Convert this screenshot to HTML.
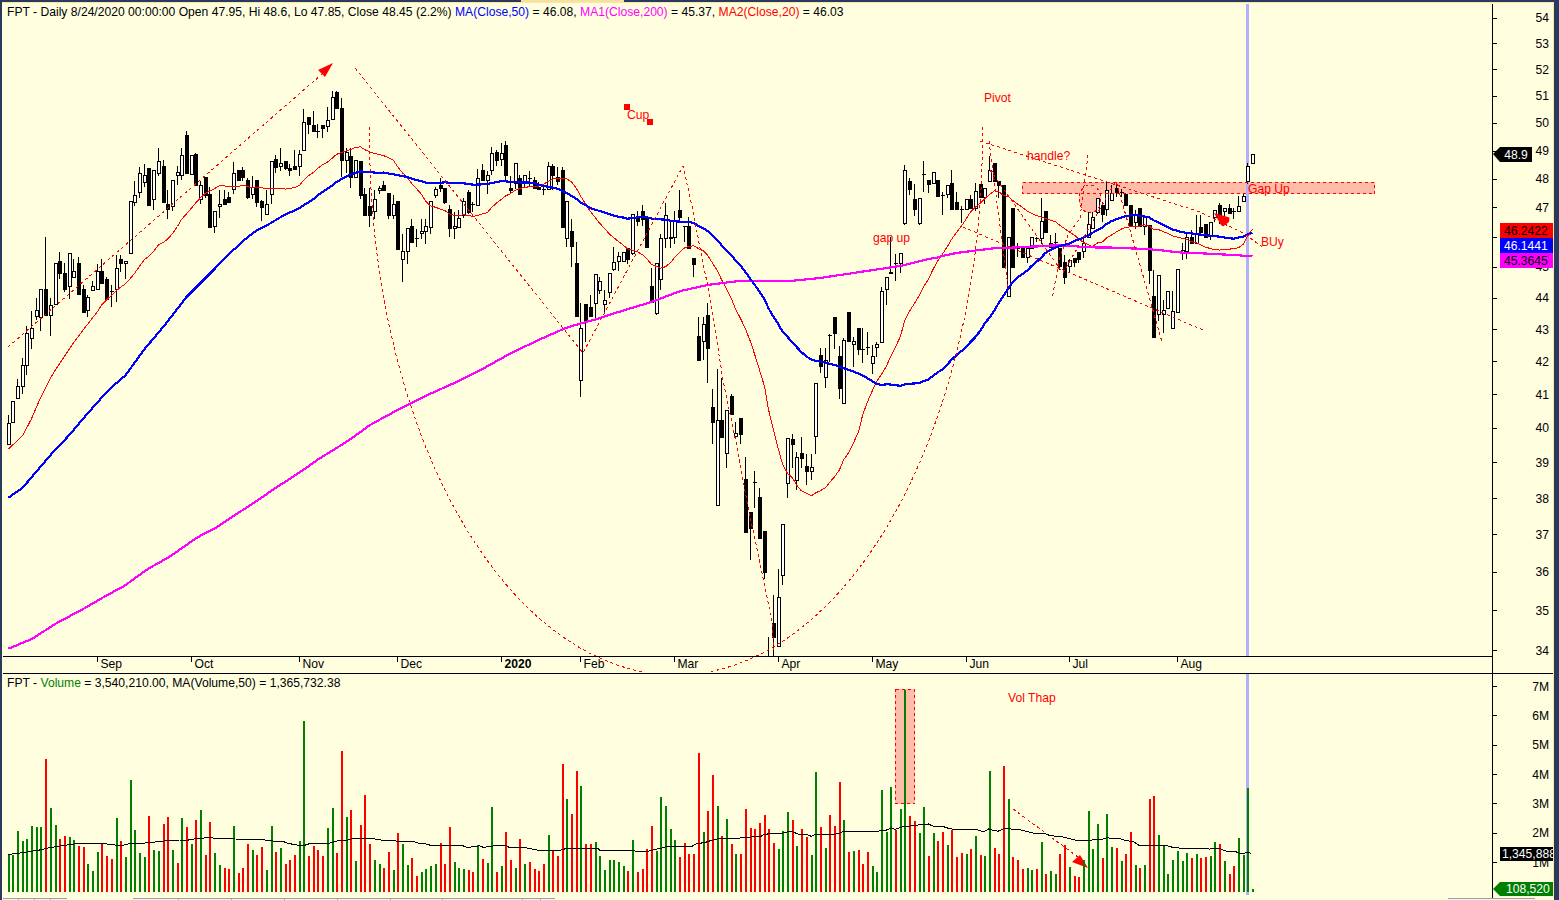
<!DOCTYPE html><html><head><meta charset="utf-8"><style>html,body{margin:0;padding:0;background:#FFFFE0;overflow:hidden}body{width:1559px;height:900px}</style></head><body><svg width="1559" height="900" viewBox="0 0 1559 900" style="display:block">
<rect x="0" y="0" width="1559" height="900" fill="#FFFFE0"/>
<rect x="1022" y="182" width="353" height="12" fill="#FFBCA8"/>
<ellipse cx="1090" cy="199" rx="11" ry="14" fill="#FFBCA8"/>
<rect x="895" y="689" width="20" height="115" fill="#FFBCA8"/>
<rect x="1246" y="4" width="3" height="652" fill="#B0B0FF"/>
<rect x="1246" y="674" width="3" height="221" fill="#B0B0FF"/>
<g shape-rendering="crispEdges"><rect x="8" y="415" width="1" height="30" fill="#000"/><rect x="7" y="423" width="4" height="22" fill="#000"/><rect x="8" y="424" width="2" height="20" fill="#FFF"/><rect x="12" y="401" width="1" height="22" fill="#000"/><rect x="11" y="401" width="4" height="22" fill="#000"/><rect x="12" y="402" width="2" height="20" fill="#FFF"/><rect x="17" y="379" width="1" height="20" fill="#000"/><rect x="16" y="386" width="4" height="13" fill="#000"/><rect x="17" y="387" width="2" height="11" fill="#FFF"/><rect x="22" y="358" width="1" height="36" fill="#000"/><rect x="21" y="365" width="4" height="22" fill="#000"/><rect x="22" y="366" width="2" height="20" fill="#FFF"/><rect x="26" y="326" width="1" height="49" fill="#000"/><rect x="25" y="333" width="4" height="33" fill="#000"/><rect x="26" y="334" width="2" height="31" fill="#FFF"/><rect x="31" y="311" width="1" height="38" fill="#000"/><rect x="30" y="328" width="4" height="11" fill="#000"/><rect x="31" y="329" width="2" height="9" fill="#FFF"/><rect x="36" y="298" width="1" height="22" fill="#000"/><rect x="35" y="310" width="4" height="7" fill="#000"/><rect x="36" y="311" width="2" height="5" fill="#FFF"/><rect x="40" y="289" width="1" height="42" fill="#000"/><rect x="39" y="289" width="4" height="29" fill="#000"/><rect x="40" y="290" width="2" height="27" fill="#FFF"/><rect x="45" y="237" width="1" height="79" fill="#000"/><rect x="44" y="289" width="4" height="27" fill="#000"/><rect x="50" y="298" width="1" height="38" fill="#000"/><rect x="49" y="305" width="4" height="11" fill="#000"/><rect x="50" y="306" width="2" height="9" fill="#FFF"/><rect x="55" y="263" width="1" height="42" fill="#000"/><rect x="54" y="263" width="4" height="42" fill="#000"/><rect x="55" y="264" width="2" height="40" fill="#FFF"/><rect x="59" y="252" width="1" height="27" fill="#000"/><rect x="58" y="261" width="4" height="13" fill="#000"/><rect x="64" y="263" width="1" height="29" fill="#000"/><rect x="63" y="273" width="4" height="17" fill="#000"/><rect x="69" y="253" width="1" height="46" fill="#000"/><rect x="68" y="253" width="4" height="34" fill="#000"/><rect x="69" y="254" width="2" height="32" fill="#FFF"/><rect x="73" y="259" width="1" height="19" fill="#000"/><rect x="72" y="271" width="4" height="7" fill="#000"/><rect x="73" y="272" width="2" height="5" fill="#FFF"/><rect x="78" y="257" width="1" height="38" fill="#000"/><rect x="77" y="263" width="4" height="32" fill="#000"/><rect x="83" y="285" width="1" height="28" fill="#000"/><rect x="82" y="289" width="4" height="24" fill="#000"/><rect x="87" y="295" width="1" height="22" fill="#000"/><rect x="86" y="297" width="4" height="14" fill="#000"/><rect x="87" y="298" width="2" height="12" fill="#FFF"/><rect x="92" y="281" width="1" height="10" fill="#000"/><rect x="91" y="286" width="4" height="5" fill="#000"/><rect x="92" y="287" width="2" height="3" fill="#FFF"/><rect x="97" y="264" width="1" height="26" fill="#000"/><rect x="96" y="271" width="4" height="19" fill="#000"/><rect x="97" y="272" width="2" height="17" fill="#FFF"/><rect x="101" y="259" width="1" height="25" fill="#000"/><rect x="100" y="271" width="4" height="13" fill="#000"/><rect x="106" y="277" width="1" height="23" fill="#000"/><rect x="105" y="279" width="4" height="21" fill="#000"/><rect x="111" y="285" width="1" height="22" fill="#000"/><rect x="110" y="291" width="4" height="1" fill="#000"/><rect x="116" y="255" width="1" height="47" fill="#000"/><rect x="115" y="268" width="4" height="22" fill="#000"/><rect x="116" y="269" width="2" height="20" fill="#FFF"/><rect x="120" y="255" width="1" height="17" fill="#000"/><rect x="119" y="259" width="4" height="5" fill="#000"/><rect x="125" y="261" width="1" height="18" fill="#000"/><rect x="124" y="261" width="4" height="3" fill="#000"/><rect x="125" y="262" width="2" height="1" fill="#FFF"/><rect x="130" y="201" width="1" height="53" fill="#000"/><rect x="129" y="201" width="4" height="53" fill="#000"/><rect x="130" y="202" width="2" height="51" fill="#FFF"/><rect x="134" y="181" width="1" height="25" fill="#000"/><rect x="133" y="195" width="4" height="8" fill="#000"/><rect x="134" y="196" width="2" height="6" fill="#FFF"/><rect x="139" y="167" width="1" height="31" fill="#000"/><rect x="138" y="173" width="4" height="20" fill="#000"/><rect x="139" y="174" width="2" height="18" fill="#FFF"/><rect x="144" y="164" width="1" height="23" fill="#000"/><rect x="143" y="175" width="4" height="8" fill="#000"/><rect x="144" y="176" width="2" height="6" fill="#FFF"/><rect x="148" y="168" width="1" height="38" fill="#000"/><rect x="147" y="168" width="4" height="38" fill="#000"/><rect x="153" y="170" width="1" height="40" fill="#000"/><rect x="152" y="170" width="4" height="30" fill="#000"/><rect x="153" y="171" width="2" height="28" fill="#FFF"/><rect x="158" y="148" width="1" height="28" fill="#000"/><rect x="157" y="161" width="4" height="13" fill="#000"/><rect x="158" y="162" width="2" height="11" fill="#FFF"/><rect x="163" y="160" width="1" height="43" fill="#000"/><rect x="162" y="166" width="4" height="37" fill="#000"/><rect x="167" y="190" width="1" height="29" fill="#000"/><rect x="166" y="204" width="4" height="6" fill="#000"/><rect x="172" y="180" width="1" height="31" fill="#000"/><rect x="171" y="180" width="4" height="27" fill="#000"/><rect x="172" y="181" width="2" height="25" fill="#FFF"/><rect x="177" y="166" width="1" height="19" fill="#000"/><rect x="176" y="172" width="4" height="4" fill="#000"/><rect x="177" y="173" width="2" height="2" fill="#FFF"/><rect x="181" y="148" width="1" height="32" fill="#000"/><rect x="180" y="155" width="4" height="21" fill="#000"/><rect x="181" y="156" width="2" height="19" fill="#FFF"/><rect x="186" y="131" width="1" height="43" fill="#000"/><rect x="185" y="135" width="4" height="39" fill="#000"/><rect x="191" y="155" width="1" height="20" fill="#000"/><rect x="190" y="155" width="4" height="20" fill="#000"/><rect x="191" y="156" width="2" height="18" fill="#FFF"/><rect x="195" y="153" width="1" height="33" fill="#000"/><rect x="194" y="154" width="4" height="32" fill="#000"/><rect x="200" y="181" width="1" height="23" fill="#000"/><rect x="199" y="185" width="4" height="15" fill="#000"/><rect x="200" y="186" width="2" height="13" fill="#FFF"/><rect x="205" y="177" width="1" height="21" fill="#000"/><rect x="204" y="177" width="4" height="19" fill="#000"/><rect x="209" y="187" width="1" height="41" fill="#000"/><rect x="208" y="194" width="4" height="34" fill="#000"/><rect x="214" y="211" width="1" height="22" fill="#000"/><rect x="213" y="211" width="4" height="16" fill="#000"/><rect x="214" y="212" width="2" height="14" fill="#FFF"/><rect x="219" y="190" width="1" height="28" fill="#000"/><rect x="218" y="204" width="4" height="3" fill="#000"/><rect x="219" y="205" width="2" height="1" fill="#FFF"/><rect x="224" y="190" width="1" height="15" fill="#000"/><rect x="223" y="199" width="4" height="6" fill="#000"/><rect x="228" y="192" width="1" height="11" fill="#000"/><rect x="227" y="197" width="4" height="6" fill="#000"/><rect x="233" y="162" width="1" height="32" fill="#000"/><rect x="232" y="173" width="4" height="17" fill="#000"/><rect x="233" y="174" width="2" height="15" fill="#FFF"/><rect x="238" y="170" width="1" height="11" fill="#000"/><rect x="237" y="170" width="4" height="11" fill="#000"/><rect x="242" y="167" width="1" height="14" fill="#000"/><rect x="241" y="170" width="4" height="8" fill="#000"/><rect x="247" y="178" width="1" height="21" fill="#000"/><rect x="246" y="180" width="4" height="18" fill="#000"/><rect x="252" y="176" width="1" height="23" fill="#000"/><rect x="251" y="187" width="4" height="8" fill="#000"/><rect x="252" y="188" width="2" height="6" fill="#FFF"/><rect x="256" y="180" width="1" height="27" fill="#000"/><rect x="255" y="180" width="4" height="23" fill="#000"/><rect x="261" y="200" width="1" height="21" fill="#000"/><rect x="260" y="201" width="4" height="7" fill="#000"/><rect x="266" y="190" width="1" height="25" fill="#000"/><rect x="265" y="204" width="4" height="11" fill="#000"/><rect x="266" y="205" width="2" height="9" fill="#FFF"/><rect x="271" y="161" width="1" height="43" fill="#000"/><rect x="270" y="161" width="4" height="34" fill="#000"/><rect x="271" y="162" width="2" height="32" fill="#FFF"/><rect x="275" y="155" width="1" height="18" fill="#000"/><rect x="274" y="159" width="4" height="9" fill="#000"/><rect x="280" y="148" width="1" height="23" fill="#000"/><rect x="279" y="163" width="4" height="4" fill="#000"/><rect x="280" y="164" width="2" height="2" fill="#FFF"/><rect x="285" y="161" width="1" height="9" fill="#000"/><rect x="284" y="161" width="4" height="8" fill="#000"/><rect x="289" y="164" width="1" height="12" fill="#000"/><rect x="288" y="168" width="4" height="3" fill="#000"/><rect x="294" y="150" width="1" height="20" fill="#000"/><rect x="293" y="166" width="4" height="4" fill="#000"/><rect x="299" y="150" width="1" height="26" fill="#000"/><rect x="298" y="154" width="4" height="13" fill="#000"/><rect x="299" y="155" width="2" height="11" fill="#FFF"/><rect x="303" y="109" width="1" height="42" fill="#000"/><rect x="302" y="122" width="4" height="29" fill="#000"/><rect x="303" y="123" width="2" height="27" fill="#FFF"/><rect x="308" y="117" width="1" height="17" fill="#000"/><rect x="307" y="117" width="4" height="8" fill="#000"/><rect x="313" y="111" width="1" height="21" fill="#000"/><rect x="312" y="125" width="4" height="7" fill="#000"/><rect x="317" y="124" width="1" height="14" fill="#000"/><rect x="316" y="131" width="4" height="1" fill="#000"/><rect x="322" y="125" width="1" height="13" fill="#000"/><rect x="321" y="125" width="4" height="4" fill="#000"/><rect x="327" y="107" width="1" height="25" fill="#000"/><rect x="326" y="120" width="4" height="7" fill="#000"/><rect x="327" y="121" width="2" height="5" fill="#FFF"/><rect x="332" y="91" width="1" height="29" fill="#000"/><rect x="331" y="97" width="4" height="23" fill="#000"/><rect x="332" y="98" width="2" height="21" fill="#FFF"/><rect x="336" y="91" width="1" height="18" fill="#000"/><rect x="335" y="92" width="4" height="17" fill="#000"/><rect x="341" y="98" width="1" height="79" fill="#000"/><rect x="340" y="108" width="4" height="53" fill="#000"/><rect x="346" y="148" width="1" height="25" fill="#000"/><rect x="345" y="152" width="4" height="9" fill="#000"/><rect x="346" y="153" width="2" height="7" fill="#FFF"/><rect x="350" y="148" width="1" height="40" fill="#000"/><rect x="349" y="156" width="4" height="22" fill="#000"/><rect x="355" y="160" width="1" height="18" fill="#000"/><rect x="354" y="160" width="4" height="18" fill="#000"/><rect x="355" y="161" width="2" height="16" fill="#FFF"/><rect x="360" y="161" width="1" height="38" fill="#000"/><rect x="359" y="161" width="4" height="35" fill="#000"/><rect x="364" y="188" width="1" height="28" fill="#000"/><rect x="363" y="194" width="4" height="22" fill="#000"/><rect x="369" y="188" width="1" height="39" fill="#000"/><rect x="368" y="206" width="4" height="10" fill="#000"/><rect x="374" y="190" width="1" height="29" fill="#000"/><rect x="373" y="199" width="4" height="13" fill="#000"/><rect x="374" y="200" width="2" height="11" fill="#FFF"/><rect x="379" y="186" width="1" height="8" fill="#000"/><rect x="378" y="188" width="4" height="3" fill="#000"/><rect x="379" y="189" width="2" height="1" fill="#FFF"/><rect x="383" y="181" width="1" height="10" fill="#000"/><rect x="382" y="185" width="4" height="6" fill="#000"/><rect x="388" y="193" width="1" height="26" fill="#000"/><rect x="387" y="193" width="4" height="23" fill="#000"/><rect x="393" y="195" width="1" height="24" fill="#000"/><rect x="392" y="204" width="4" height="12" fill="#000"/><rect x="393" y="205" width="2" height="10" fill="#FFF"/><rect x="397" y="201" width="1" height="49" fill="#000"/><rect x="396" y="201" width="4" height="49" fill="#000"/><rect x="402" y="234" width="1" height="48" fill="#000"/><rect x="401" y="251" width="4" height="9" fill="#000"/><rect x="402" y="252" width="2" height="7" fill="#FFF"/><rect x="407" y="228" width="1" height="36" fill="#000"/><rect x="406" y="228" width="4" height="24" fill="#000"/><rect x="407" y="229" width="2" height="22" fill="#FFF"/><rect x="411" y="219" width="1" height="24" fill="#000"/><rect x="410" y="226" width="4" height="17" fill="#000"/><rect x="416" y="229" width="1" height="18" fill="#000"/><rect x="415" y="238" width="4" height="1" fill="#000"/><rect x="421" y="219" width="1" height="20" fill="#000"/><rect x="420" y="231" width="4" height="3" fill="#000"/><rect x="421" y="232" width="2" height="1" fill="#FFF"/><rect x="425" y="219" width="1" height="25" fill="#000"/><rect x="424" y="226" width="4" height="6" fill="#000"/><rect x="425" y="227" width="2" height="4" fill="#FFF"/><rect x="430" y="201" width="1" height="33" fill="#000"/><rect x="429" y="201" width="4" height="27" fill="#000"/><rect x="430" y="202" width="2" height="25" fill="#FFF"/><rect x="435" y="187" width="1" height="11" fill="#000"/><rect x="434" y="189" width="4" height="7" fill="#000"/><rect x="435" y="190" width="2" height="5" fill="#FFF"/><rect x="440" y="178" width="1" height="14" fill="#000"/><rect x="439" y="185" width="4" height="4" fill="#000"/><rect x="444" y="188" width="1" height="16" fill="#000"/><rect x="443" y="188" width="4" height="15" fill="#000"/><rect x="449" y="205" width="1" height="32" fill="#000"/><rect x="448" y="209" width="4" height="20" fill="#000"/><rect x="454" y="212" width="1" height="27" fill="#000"/><rect x="453" y="226" width="4" height="3" fill="#000"/><rect x="454" y="227" width="2" height="1" fill="#FFF"/><rect x="458" y="210" width="1" height="18" fill="#000"/><rect x="457" y="218" width="4" height="10" fill="#000"/><rect x="458" y="219" width="2" height="8" fill="#FFF"/><rect x="463" y="198" width="1" height="20" fill="#000"/><rect x="462" y="201" width="4" height="15" fill="#000"/><rect x="463" y="202" width="2" height="13" fill="#FFF"/><rect x="468" y="190" width="1" height="24" fill="#000"/><rect x="467" y="192" width="4" height="21" fill="#000"/><rect x="472" y="202" width="1" height="10" fill="#000"/><rect x="471" y="204" width="4" height="1" fill="#000"/><rect x="477" y="169" width="1" height="37" fill="#000"/><rect x="476" y="178" width="4" height="28" fill="#000"/><rect x="477" y="179" width="2" height="26" fill="#FFF"/><rect x="482" y="164" width="1" height="17" fill="#000"/><rect x="481" y="170" width="4" height="11" fill="#000"/><rect x="487" y="171" width="1" height="23" fill="#000"/><rect x="486" y="175" width="4" height="6" fill="#000"/><rect x="487" y="176" width="2" height="4" fill="#FFF"/><rect x="491" y="147" width="1" height="28" fill="#000"/><rect x="490" y="153" width="4" height="18" fill="#000"/><rect x="491" y="154" width="2" height="16" fill="#FFF"/><rect x="496" y="150" width="1" height="16" fill="#000"/><rect x="495" y="152" width="4" height="9" fill="#000"/><rect x="501" y="143" width="1" height="23" fill="#000"/><rect x="500" y="153" width="4" height="7" fill="#000"/><rect x="501" y="154" width="2" height="5" fill="#FFF"/><rect x="505" y="141" width="1" height="39" fill="#000"/><rect x="504" y="145" width="4" height="31" fill="#000"/><rect x="510" y="176" width="1" height="18" fill="#000"/><rect x="509" y="188" width="4" height="3" fill="#000"/><rect x="515" y="163" width="1" height="26" fill="#000"/><rect x="514" y="163" width="4" height="21" fill="#000"/><rect x="515" y="164" width="2" height="19" fill="#FFF"/><rect x="519" y="175" width="1" height="20" fill="#000"/><rect x="518" y="178" width="4" height="17" fill="#000"/><rect x="524" y="175" width="1" height="12" fill="#000"/><rect x="523" y="175" width="4" height="9" fill="#000"/><rect x="524" y="176" width="2" height="7" fill="#FFF"/><rect x="529" y="171" width="1" height="16" fill="#000"/><rect x="528" y="178" width="4" height="1" fill="#000"/><rect x="534" y="177" width="1" height="12" fill="#000"/><rect x="533" y="180" width="4" height="9" fill="#000"/><rect x="538" y="182" width="1" height="8" fill="#000"/><rect x="537" y="187" width="4" height="3" fill="#000"/><rect x="543" y="187" width="1" height="8" fill="#000"/><rect x="542" y="189" width="4" height="1" fill="#000"/><rect x="548" y="162" width="1" height="28" fill="#000"/><rect x="547" y="166" width="4" height="24" fill="#000"/><rect x="548" y="167" width="2" height="22" fill="#FFF"/><rect x="552" y="164" width="1" height="26" fill="#000"/><rect x="551" y="166" width="4" height="10" fill="#000"/><rect x="557" y="167" width="1" height="18" fill="#000"/><rect x="556" y="177" width="4" height="5" fill="#000"/><rect x="562" y="167" width="1" height="61" fill="#000"/><rect x="561" y="170" width="4" height="58" fill="#000"/><rect x="566" y="201" width="1" height="46" fill="#000"/><rect x="565" y="201" width="4" height="38" fill="#000"/><rect x="566" y="202" width="2" height="36" fill="#FFF"/><rect x="571" y="219" width="1" height="48" fill="#000"/><rect x="570" y="231" width="4" height="16" fill="#000"/><rect x="576" y="242" width="1" height="75" fill="#000"/><rect x="575" y="263" width="4" height="54" fill="#000"/><rect x="580" y="303" width="1" height="94" fill="#000"/><rect x="579" y="328" width="4" height="53" fill="#000"/><rect x="580" y="329" width="2" height="51" fill="#FFF"/><rect x="585" y="304" width="1" height="38" fill="#000"/><rect x="584" y="304" width="4" height="18" fill="#000"/><rect x="590" y="295" width="1" height="22" fill="#000"/><rect x="589" y="307" width="4" height="10" fill="#000"/><rect x="595" y="274" width="1" height="46" fill="#000"/><rect x="594" y="274" width="4" height="30" fill="#000"/><rect x="595" y="275" width="2" height="28" fill="#FFF"/><rect x="599" y="277" width="1" height="17" fill="#000"/><rect x="598" y="281" width="4" height="10" fill="#000"/><rect x="599" y="282" width="2" height="8" fill="#FFF"/><rect x="604" y="290" width="1" height="22" fill="#000"/><rect x="603" y="300" width="4" height="5" fill="#000"/><rect x="604" y="301" width="2" height="3" fill="#FFF"/><rect x="609" y="273" width="1" height="25" fill="#000"/><rect x="608" y="273" width="4" height="20" fill="#000"/><rect x="609" y="274" width="2" height="18" fill="#FFF"/><rect x="613" y="247" width="1" height="24" fill="#000"/><rect x="612" y="262" width="4" height="8" fill="#000"/><rect x="613" y="263" width="2" height="6" fill="#FFF"/><rect x="618" y="252" width="1" height="19" fill="#000"/><rect x="617" y="256" width="4" height="6" fill="#000"/><rect x="618" y="257" width="2" height="4" fill="#FFF"/><rect x="623" y="252" width="1" height="10" fill="#000"/><rect x="622" y="252" width="4" height="10" fill="#000"/><rect x="623" y="253" width="2" height="8" fill="#FFF"/><rect x="627" y="248" width="1" height="16" fill="#000"/><rect x="626" y="248" width="4" height="12" fill="#000"/><rect x="632" y="214" width="1" height="41" fill="#000"/><rect x="631" y="214" width="4" height="40" fill="#000"/><rect x="632" y="215" width="2" height="38" fill="#FFF"/><rect x="637" y="211" width="1" height="15" fill="#000"/><rect x="636" y="216" width="4" height="6" fill="#000"/><rect x="642" y="205" width="1" height="21" fill="#000"/><rect x="641" y="211" width="4" height="9" fill="#000"/><rect x="646" y="217" width="1" height="31" fill="#000"/><rect x="645" y="217" width="4" height="31" fill="#000"/><rect x="651" y="268" width="1" height="35" fill="#000"/><rect x="650" y="286" width="4" height="17" fill="#000"/><rect x="656" y="263" width="1" height="52" fill="#000"/><rect x="655" y="263" width="4" height="51" fill="#000"/><rect x="656" y="264" width="2" height="49" fill="#FFF"/><rect x="660" y="234" width="1" height="56" fill="#000"/><rect x="659" y="238" width="4" height="42" fill="#000"/><rect x="660" y="239" width="2" height="40" fill="#FFF"/><rect x="665" y="203" width="1" height="45" fill="#000"/><rect x="664" y="215" width="4" height="24" fill="#000"/><rect x="665" y="216" width="2" height="22" fill="#FFF"/><rect x="670" y="221" width="1" height="27" fill="#000"/><rect x="669" y="237" width="4" height="2" fill="#000"/><rect x="674" y="211" width="1" height="33" fill="#000"/><rect x="673" y="221" width="4" height="17" fill="#000"/><rect x="674" y="222" width="2" height="15" fill="#FFF"/><rect x="679" y="190" width="1" height="32" fill="#000"/><rect x="678" y="210" width="4" height="8" fill="#000"/><rect x="684" y="226" width="1" height="16" fill="#000"/><rect x="683" y="226" width="4" height="1" fill="#000"/><rect x="688" y="217" width="1" height="32" fill="#000"/><rect x="687" y="226" width="4" height="23" fill="#000"/><rect x="693" y="258" width="1" height="19" fill="#000"/><rect x="692" y="258" width="4" height="7" fill="#000"/><rect x="698" y="317" width="1" height="44" fill="#000"/><rect x="697" y="336" width="4" height="25" fill="#000"/><rect x="703" y="317" width="1" height="43" fill="#000"/><rect x="702" y="324" width="4" height="18" fill="#000"/><rect x="703" y="325" width="2" height="16" fill="#FFF"/><rect x="707" y="303" width="1" height="80" fill="#000"/><rect x="706" y="315" width="4" height="34" fill="#000"/><rect x="712" y="389" width="1" height="55" fill="#000"/><rect x="711" y="407" width="4" height="16" fill="#000"/><rect x="717" y="369" width="1" height="137" fill="#000"/><rect x="716" y="420" width="4" height="86" fill="#000"/><rect x="717" y="421" width="2" height="84" fill="#FFF"/><rect x="721" y="378" width="1" height="60" fill="#000"/><rect x="720" y="420" width="4" height="18" fill="#000"/><rect x="726" y="410" width="1" height="58" fill="#000"/><rect x="725" y="410" width="4" height="44" fill="#000"/><rect x="726" y="411" width="2" height="42" fill="#FFF"/><rect x="731" y="394" width="1" height="21" fill="#000"/><rect x="730" y="396" width="4" height="19" fill="#000"/><rect x="735" y="422" width="1" height="15" fill="#000"/><rect x="734" y="433" width="4" height="4" fill="#000"/><rect x="735" y="434" width="2" height="2" fill="#FFF"/><rect x="740" y="418" width="1" height="26" fill="#000"/><rect x="739" y="418" width="4" height="17" fill="#000"/><rect x="745" y="457" width="1" height="76" fill="#000"/><rect x="744" y="479" width="4" height="54" fill="#000"/><rect x="750" y="512" width="1" height="48" fill="#000"/><rect x="749" y="512" width="4" height="17" fill="#000"/><rect x="754" y="471" width="1" height="37" fill="#000"/><rect x="753" y="482" width="4" height="1" fill="#000"/><rect x="759" y="488" width="1" height="51" fill="#000"/><rect x="758" y="497" width="4" height="42" fill="#000"/><rect x="764" y="531" width="1" height="48" fill="#000"/><rect x="763" y="531" width="4" height="42" fill="#000"/><rect x="768" y="637" width="1" height="19" fill="#000"/><rect x="773" y="595" width="1" height="61" fill="#000"/><rect x="772" y="623" width="4" height="15" fill="#000"/><rect x="778" y="569" width="1" height="78" fill="#000"/><rect x="777" y="597" width="4" height="50" fill="#000"/><rect x="778" y="598" width="2" height="48" fill="#FFF"/><rect x="782" y="524" width="1" height="61" fill="#000"/><rect x="781" y="524" width="4" height="52" fill="#000"/><rect x="782" y="525" width="2" height="50" fill="#FFF"/><rect x="787" y="438" width="1" height="60" fill="#000"/><rect x="786" y="438" width="4" height="46" fill="#000"/><rect x="787" y="439" width="2" height="44" fill="#FFF"/><rect x="792" y="434" width="1" height="34" fill="#000"/><rect x="791" y="439" width="4" height="6" fill="#000"/><rect x="796" y="452" width="1" height="38" fill="#000"/><rect x="795" y="457" width="4" height="24" fill="#000"/><rect x="796" y="458" width="2" height="22" fill="#FFF"/><rect x="801" y="437" width="1" height="31" fill="#000"/><rect x="800" y="453" width="4" height="6" fill="#000"/><rect x="806" y="454" width="1" height="31" fill="#000"/><rect x="805" y="466" width="4" height="6" fill="#000"/><rect x="811" y="454" width="1" height="26" fill="#000"/><rect x="810" y="467" width="4" height="5" fill="#000"/><rect x="811" y="468" width="2" height="3" fill="#FFF"/><rect x="815" y="383" width="1" height="71" fill="#000"/><rect x="814" y="383" width="4" height="54" fill="#000"/><rect x="815" y="384" width="2" height="52" fill="#FFF"/><rect x="820" y="348" width="1" height="25" fill="#000"/><rect x="819" y="355" width="4" height="12" fill="#000"/><rect x="825" y="348" width="1" height="40" fill="#000"/><rect x="824" y="360" width="4" height="18" fill="#000"/><rect x="825" y="361" width="2" height="16" fill="#FFF"/><rect x="829" y="334" width="1" height="28" fill="#000"/><rect x="828" y="335" width="4" height="1" fill="#000"/><rect x="834" y="317" width="1" height="32" fill="#000"/><rect x="833" y="317" width="4" height="17" fill="#000"/><rect x="839" y="346" width="1" height="53" fill="#000"/><rect x="838" y="356" width="4" height="33" fill="#000"/><rect x="843" y="338" width="1" height="66" fill="#000"/><rect x="842" y="340" width="4" height="64" fill="#000"/><rect x="843" y="341" width="2" height="62" fill="#FFF"/><rect x="848" y="312" width="1" height="30" fill="#000"/><rect x="847" y="312" width="4" height="30" fill="#000"/><rect x="853" y="337" width="1" height="30" fill="#000"/><rect x="852" y="341" width="4" height="4" fill="#000"/><rect x="853" y="342" width="2" height="2" fill="#FFF"/><rect x="858" y="328" width="1" height="27" fill="#000"/><rect x="857" y="328" width="4" height="22" fill="#000"/><rect x="862" y="328" width="1" height="35" fill="#000"/><rect x="861" y="349" width="4" height="1" fill="#000"/><rect x="867" y="332" width="1" height="23" fill="#000"/><rect x="866" y="347" width="4" height="1" fill="#000"/><rect x="872" y="345" width="1" height="29" fill="#000"/><rect x="871" y="356" width="4" height="8" fill="#000"/><rect x="872" y="357" width="2" height="6" fill="#FFF"/><rect x="876" y="342" width="1" height="15" fill="#000"/><rect x="875" y="344" width="4" height="4" fill="#000"/><rect x="876" y="345" width="2" height="2" fill="#FFF"/><rect x="881" y="287" width="1" height="56" fill="#000"/><rect x="880" y="291" width="4" height="52" fill="#000"/><rect x="881" y="292" width="2" height="50" fill="#FFF"/><rect x="886" y="277" width="1" height="28" fill="#000"/><rect x="885" y="277" width="4" height="13" fill="#000"/><rect x="886" y="278" width="2" height="11" fill="#FFF"/><rect x="890" y="237" width="1" height="37" fill="#000"/><rect x="889" y="272" width="4" height="2" fill="#000"/><rect x="895" y="254" width="1" height="27" fill="#000"/><rect x="894" y="263" width="4" height="1" fill="#000"/><rect x="900" y="253" width="1" height="20" fill="#000"/><rect x="899" y="253" width="4" height="11" fill="#000"/><rect x="900" y="254" width="2" height="9" fill="#FFF"/><rect x="904" y="165" width="1" height="60" fill="#000"/><rect x="903" y="170" width="4" height="54" fill="#000"/><rect x="904" y="171" width="2" height="52" fill="#FFF"/><rect x="909" y="178" width="1" height="17" fill="#000"/><rect x="908" y="181" width="4" height="9" fill="#000"/><rect x="914" y="184" width="1" height="32" fill="#000"/><rect x="913" y="199" width="4" height="11" fill="#000"/><rect x="919" y="198" width="1" height="27" fill="#000"/><rect x="918" y="198" width="4" height="26" fill="#000"/><rect x="919" y="199" width="2" height="24" fill="#FFF"/><rect x="923" y="161" width="1" height="31" fill="#000"/><rect x="922" y="174" width="4" height="1" fill="#000"/><rect x="928" y="180" width="1" height="13" fill="#000"/><rect x="927" y="180" width="4" height="5" fill="#000"/><rect x="933" y="172" width="1" height="12" fill="#000"/><rect x="932" y="172" width="4" height="12" fill="#000"/><rect x="933" y="173" width="2" height="10" fill="#FFF"/><rect x="937" y="180" width="1" height="17" fill="#000"/><rect x="936" y="180" width="4" height="17" fill="#000"/><rect x="942" y="192" width="1" height="23" fill="#000"/><rect x="941" y="195" width="4" height="1" fill="#000"/><rect x="947" y="185" width="1" height="13" fill="#000"/><rect x="946" y="185" width="4" height="10" fill="#000"/><rect x="947" y="186" width="2" height="8" fill="#FFF"/><rect x="951" y="170" width="1" height="40" fill="#000"/><rect x="950" y="183" width="4" height="27" fill="#000"/><rect x="956" y="192" width="1" height="18" fill="#000"/><rect x="955" y="202" width="4" height="8" fill="#000"/><rect x="961" y="206" width="1" height="17" fill="#000"/><rect x="960" y="209" width="4" height="1" fill="#000"/><rect x="966" y="199" width="1" height="11" fill="#000"/><rect x="965" y="199" width="4" height="11" fill="#000"/><rect x="966" y="200" width="2" height="9" fill="#FFF"/><rect x="970" y="195" width="1" height="14" fill="#000"/><rect x="969" y="199" width="4" height="10" fill="#000"/><rect x="975" y="183" width="1" height="28" fill="#000"/><rect x="974" y="191" width="4" height="18" fill="#000"/><rect x="975" y="192" width="2" height="16" fill="#FFF"/><rect x="980" y="184" width="1" height="14" fill="#000"/><rect x="979" y="184" width="4" height="14" fill="#000"/><rect x="984" y="188" width="1" height="16" fill="#000"/><rect x="983" y="188" width="4" height="10" fill="#000"/><rect x="984" y="189" width="2" height="8" fill="#FFF"/><rect x="989" y="156" width="1" height="26" fill="#000"/><rect x="988" y="170" width="4" height="12" fill="#000"/><rect x="989" y="171" width="2" height="10" fill="#FFF"/><rect x="994" y="163" width="1" height="19" fill="#000"/><rect x="993" y="163" width="4" height="19" fill="#000"/><rect x="998" y="181" width="1" height="17" fill="#000"/><rect x="997" y="181" width="4" height="5" fill="#000"/><rect x="1003" y="185" width="1" height="83" fill="#000"/><rect x="1002" y="185" width="4" height="83" fill="#000"/><rect x="1008" y="237" width="1" height="60" fill="#000"/><rect x="1007" y="237" width="4" height="60" fill="#000"/><rect x="1008" y="238" width="2" height="58" fill="#FFF"/><rect x="1012" y="208" width="1" height="60" fill="#000"/><rect x="1011" y="208" width="4" height="60" fill="#000"/><rect x="1017" y="243" width="1" height="14" fill="#000"/><rect x="1016" y="248" width="4" height="1" fill="#000"/><rect x="1022" y="246" width="1" height="12" fill="#000"/><rect x="1021" y="246" width="4" height="12" fill="#000"/><rect x="1027" y="248" width="1" height="15" fill="#000"/><rect x="1026" y="248" width="4" height="10" fill="#000"/><rect x="1027" y="249" width="2" height="8" fill="#FFF"/><rect x="1031" y="237" width="1" height="12" fill="#000"/><rect x="1030" y="237" width="4" height="12" fill="#000"/><rect x="1031" y="238" width="2" height="10" fill="#FFF"/><rect x="1036" y="237" width="1" height="5" fill="#000"/><rect x="1035" y="238" width="4" height="1" fill="#000"/><rect x="1041" y="198" width="1" height="46" fill="#000"/><rect x="1040" y="221" width="4" height="18" fill="#000"/><rect x="1041" y="222" width="2" height="16" fill="#FFF"/><rect x="1045" y="211" width="1" height="22" fill="#000"/><rect x="1044" y="211" width="4" height="22" fill="#000"/><rect x="1050" y="235" width="1" height="13" fill="#000"/><rect x="1049" y="243" width="4" height="5" fill="#000"/><rect x="1050" y="244" width="2" height="3" fill="#FFF"/><rect x="1055" y="233" width="1" height="12" fill="#000"/><rect x="1054" y="242" width="4" height="1" fill="#000"/><rect x="1059" y="248" width="1" height="22" fill="#000"/><rect x="1058" y="248" width="4" height="19" fill="#000"/><rect x="1064" y="255" width="1" height="29" fill="#000"/><rect x="1063" y="262" width="4" height="16" fill="#000"/><rect x="1069" y="259" width="1" height="13" fill="#000"/><rect x="1068" y="260" width="4" height="7" fill="#000"/><rect x="1069" y="261" width="2" height="5" fill="#FFF"/><rect x="1074" y="258" width="1" height="9" fill="#000"/><rect x="1073" y="258" width="4" height="5" fill="#000"/><rect x="1078" y="252" width="1" height="11" fill="#000"/><rect x="1077" y="252" width="4" height="8" fill="#000"/><rect x="1083" y="239" width="1" height="19" fill="#000"/><rect x="1082" y="243" width="4" height="9" fill="#000"/><rect x="1083" y="244" width="2" height="7" fill="#FFF"/><rect x="1088" y="212" width="1" height="26" fill="#000"/><rect x="1087" y="224" width="4" height="14" fill="#000"/><rect x="1088" y="225" width="2" height="12" fill="#FFF"/><rect x="1092" y="212" width="1" height="17" fill="#000"/><rect x="1091" y="217" width="4" height="12" fill="#000"/><rect x="1092" y="218" width="2" height="10" fill="#FFF"/><rect x="1097" y="198" width="1" height="16" fill="#000"/><rect x="1096" y="198" width="4" height="15" fill="#000"/><rect x="1097" y="199" width="2" height="13" fill="#FFF"/><rect x="1102" y="202" width="1" height="20" fill="#000"/><rect x="1101" y="205" width="4" height="10" fill="#000"/><rect x="1106" y="182" width="1" height="34" fill="#000"/><rect x="1105" y="190" width="4" height="20" fill="#000"/><rect x="1106" y="191" width="2" height="18" fill="#FFF"/><rect x="1111" y="185" width="1" height="16" fill="#000"/><rect x="1110" y="193" width="4" height="8" fill="#000"/><rect x="1111" y="194" width="2" height="6" fill="#FFF"/><rect x="1116" y="182" width="1" height="15" fill="#000"/><rect x="1115" y="188" width="4" height="5" fill="#000"/><rect x="1121" y="189" width="1" height="8" fill="#000"/><rect x="1120" y="192" width="4" height="1" fill="#000"/><rect x="1125" y="194" width="1" height="12" fill="#000"/><rect x="1124" y="194" width="4" height="12" fill="#000"/><rect x="1130" y="205" width="1" height="22" fill="#000"/><rect x="1129" y="205" width="4" height="22" fill="#000"/><rect x="1135" y="210" width="1" height="19" fill="#000"/><rect x="1134" y="214" width="4" height="9" fill="#000"/><rect x="1135" y="215" width="2" height="7" fill="#FFF"/><rect x="1139" y="208" width="1" height="19" fill="#000"/><rect x="1138" y="208" width="4" height="19" fill="#000"/><rect x="1144" y="216" width="1" height="19" fill="#000"/><rect x="1143" y="216" width="4" height="11" fill="#000"/><rect x="1144" y="217" width="2" height="9" fill="#FFF"/><rect x="1149" y="225" width="1" height="59" fill="#000"/><rect x="1148" y="225" width="4" height="46" fill="#000"/><rect x="1153" y="270" width="1" height="68" fill="#000"/><rect x="1152" y="296" width="4" height="42" fill="#000"/><rect x="1158" y="275" width="1" height="46" fill="#000"/><rect x="1157" y="275" width="4" height="40" fill="#000"/><rect x="1158" y="276" width="2" height="38" fill="#FFF"/><rect x="1163" y="300" width="1" height="33" fill="#000"/><rect x="1162" y="310" width="4" height="5" fill="#000"/><rect x="1163" y="311" width="2" height="3" fill="#FFF"/><rect x="1167" y="291" width="1" height="18" fill="#000"/><rect x="1166" y="291" width="4" height="18" fill="#000"/><rect x="1167" y="292" width="2" height="16" fill="#FFF"/><rect x="1172" y="291" width="1" height="38" fill="#000"/><rect x="1171" y="311" width="4" height="18" fill="#000"/><rect x="1172" y="312" width="2" height="16" fill="#FFF"/><rect x="1177" y="269" width="1" height="44" fill="#000"/><rect x="1176" y="269" width="4" height="44" fill="#000"/><rect x="1177" y="270" width="2" height="42" fill="#FFF"/><rect x="1182" y="243" width="1" height="17" fill="#000"/><rect x="1181" y="250" width="4" height="3" fill="#000"/><rect x="1182" y="251" width="2" height="1" fill="#FFF"/><rect x="1186" y="234" width="1" height="25" fill="#000"/><rect x="1185" y="237" width="4" height="15" fill="#000"/><rect x="1186" y="238" width="2" height="13" fill="#FFF"/><rect x="1191" y="230" width="1" height="14" fill="#000"/><rect x="1190" y="237" width="4" height="7" fill="#000"/><rect x="1196" y="215" width="1" height="29" fill="#000"/><rect x="1195" y="234" width="4" height="10" fill="#000"/><rect x="1196" y="235" width="2" height="8" fill="#FFF"/><rect x="1200" y="215" width="1" height="19" fill="#000"/><rect x="1199" y="227" width="4" height="6" fill="#000"/><rect x="1205" y="224" width="1" height="14" fill="#000"/><rect x="1204" y="224" width="4" height="14" fill="#000"/><rect x="1210" y="222" width="1" height="18" fill="#000"/><rect x="1209" y="222" width="4" height="14" fill="#000"/><rect x="1210" y="223" width="2" height="12" fill="#FFF"/><rect x="1214" y="210" width="1" height="12" fill="#000"/><rect x="1213" y="210" width="4" height="8" fill="#000"/><rect x="1214" y="211" width="2" height="6" fill="#FFF"/><rect x="1219" y="203" width="1" height="21" fill="#000"/><rect x="1218" y="205" width="4" height="12" fill="#000"/><rect x="1224" y="208" width="1" height="9" fill="#000"/><rect x="1223" y="208" width="4" height="4" fill="#000"/><rect x="1224" y="209" width="2" height="2" fill="#FFF"/><rect x="1229" y="204" width="1" height="10" fill="#000"/><rect x="1228" y="208" width="4" height="6" fill="#000"/><rect x="1233" y="208" width="1" height="11" fill="#000"/><rect x="1232" y="211" width="4" height="1" fill="#000"/><rect x="1238" y="196" width="1" height="16" fill="#000"/><rect x="1237" y="206" width="4" height="6" fill="#000"/><rect x="1238" y="207" width="2" height="4" fill="#FFF"/><rect x="1243" y="193" width="1" height="9" fill="#000"/><rect x="1242" y="196" width="4" height="6" fill="#000"/><rect x="1243" y="197" width="2" height="4" fill="#FFF"/><rect x="1247" y="163" width="1" height="21" fill="#000"/><rect x="1246" y="166" width="4" height="16" fill="#000"/><rect x="1247" y="167" width="2" height="14" fill="#FFF"/><rect x="1252" y="154" width="1" height="10" fill="#000"/><rect x="1251" y="154" width="4" height="10" fill="#000"/><rect x="1252" y="155" width="2" height="8" fill="#FFF"/></g>
<polyline points="8.5,449 12.5,445.2 17.5,440.4 22.5,435.6 26.5,428.3 31.5,418.8 36.5,406.9 40.5,398 45.5,388 50.5,378 55.5,369.8 59.5,363.8 64.5,356.3 69.5,348.8 73.5,342.8 78.5,336.2 83.5,329.6 87.5,324.4 92.5,317.8 97.5,311.7 101.5,305 106.5,300 111.5,295.4 116.5,290.6 120.5,287.2 125.5,283.8 130.5,278.3 134.5,273.5 139.5,266.2 144.5,259.6 148.5,256.6 153.5,251.4 158.5,244.8 163.5,242.3 167.5,239.2 172.5,233.5 177.5,226.5 181.5,219.4 186.5,213.8 191.5,208 195.5,203.2 200.5,197.7 205.5,193.1 209.5,191.1 214.5,188.6 219.5,185.8 224.5,186 228.5,186.3 233.5,186.3 238.5,186.6 242.5,185.2 247.5,186.5 252.5,187.8 256.5,187.8 261.5,187.7 266.5,188.9 271.5,188.4 275.5,189 280.5,188.5 285.5,189.1 289.5,188.4 294.5,187.6 299.5,185.5 303.5,180.2 308.5,175.8 313.5,172.2 317.5,168.5 322.5,164.8 327.5,162.1 332.5,157.9 336.5,154.4 341.5,152.6 346.5,150.9 350.5,149.6 355.5,147.4 360.5,146.9 364.5,149.5 369.5,151.9 374.5,153.6 379.5,154.6 383.5,155.6 388.5,157.8 393.5,160.3 397.5,166.6 402.5,172.8 407.5,177.7 411.5,183.2 416.5,188.7 421.5,194.3 425.5,201 430.5,205.8 435.5,207.3 440.5,209.1 444.5,210.4 449.5,213.8 454.5,215.4 458.5,215.6 463.5,214.8 468.5,215.5 472.5,216.3 477.5,215.7 482.5,213.9 487.5,212.5 491.5,207.6 496.5,203.1 501.5,199.3 505.5,196 510.5,193.6 515.5,190.2 519.5,188.6 524.5,187.3 529.5,186.8 534.5,186.8 538.5,186.1 543.5,184.2 548.5,181.2 552.5,179.1 557.5,178.1 562.5,178.8 566.5,178.7 571.5,182 576.5,188.5 580.5,195.9 585.5,204 590.5,211.7 595.5,217.7 599.5,223 604.5,228.4 609.5,234 613.5,237.4 618.5,241.5 623.5,245.3 627.5,248.9 632.5,250.2 637.5,251.9 642.5,254.7 646.5,258.4 651.5,264.5 656.5,266.4 660.5,268.3 665.5,266.7 670.5,262.8 674.5,257.5 679.5,252.3 684.5,247.9 688.5,246.6 693.5,245.8 698.5,248.6 703.5,251 707.5,255.2 712.5,263 717.5,271 721.5,279.5 726.5,289.1 731.5,298.6 735.5,309.1 740.5,318.3 745.5,329.1 750.5,341.8 754.5,353.9 759.5,369.9 764.5,386.4 768.5,409.4 773.5,430.4 778.5,449.4 782.5,464 787.5,473.4 792.5,477.9 796.5,485 801.5,490.9 806.5,493.4 811.5,495.8 815.5,493 820.5,490.6 825.5,487.7 829.5,482.4 834.5,477 839.5,469.7 843.5,460.1 848.5,452.8 853.5,442.8 858.5,431.9 862.5,415.5 867.5,401.8 872.5,390.5 876.5,381.8 881.5,374.3 886.5,365.9 890.5,356.7 895.5,347 900.5,336.2 904.5,321.2 909.5,311.3 914.5,303.3 919.5,295.1 923.5,286.8 928.5,279.2 933.5,268.4 937.5,261.2 942.5,254 947.5,246.3 951.5,239.4 956.5,232.6 961.5,226 966.5,218.4 970.5,211.9 975.5,207 980.5,203.1 984.5,199 989.5,194.4 994.5,190.9 998.5,191.6 1003.5,195.4 1008.5,196.8 1012.5,200.2 1017.5,203.9 1022.5,207.5 1027.5,211.3 1031.5,213.3 1036.5,215.5 1041.5,217.3 1045.5,218.4 1050.5,220.1 1055.5,221.8 1059.5,225.1 1064.5,228.5 1069.5,232 1074.5,235.2 1078.5,238.8 1083.5,242.6 1088.5,244.8 1092.5,246.5 1097.5,243 1102.5,241.8 1106.5,237.9 1111.5,235.1 1116.5,231.9 1121.5,229 1125.5,227.4 1130.5,226.8 1135.5,226.5 1139.5,226.2 1144.5,224.8 1149.5,226.2 1153.5,229.6 1158.5,229.5 1163.5,231.9 1167.5,233.3 1172.5,235.8 1177.5,237.1 1182.5,238.4 1186.5,239.4 1191.5,241.7 1196.5,242.7 1200.5,244.8 1205.5,247.1 1210.5,248.6 1214.5,249.6 1219.5,250.1 1224.5,249.2 1229.5,249.2 1233.5,248.4 1238.5,247.9 1243.5,244.1 1247.5,235.6 1252.5,229.5" fill="none" stroke="#FF0000" stroke-width="1" stroke-linejoin="round" shape-rendering="crispEdges"/>
<polyline points="8.5,648.6 12.5,647 17.5,644.9 22.5,642.8 26.5,641.2 31.5,639.1 36.5,636 40.5,633.4 45.5,630.2 50.5,627 55.5,623.8 59.5,621.6 64.5,618.9 69.5,616.3 73.5,614.1 78.5,611.5 83.5,608.8 87.5,606.5 92.5,603.6 97.5,600.7 101.5,598.4 106.5,595.5 111.5,592.8 116.5,590.1 120.5,588 125.5,585.1 130.5,581.4 134.5,578.5 139.5,574.9 144.5,571.3 148.5,568.6 153.5,565.8 158.5,563 163.5,560.2 167.5,557.9 172.5,554.7 177.5,551.2 181.5,548.4 186.5,544.9 191.5,541.4 195.5,538.6 200.5,535.7 205.5,533.2 209.5,531.2 214.5,528.7 219.5,525.4 224.5,522 228.5,519.3 233.5,516 238.5,512.8 242.5,510.2 247.5,506.9 252.5,503.7 256.5,501 261.5,497.6 266.5,494.2 271.5,490.8 275.5,488.1 280.5,484.8 285.5,481.6 289.5,479 294.5,475.7 299.5,472.4 303.5,469.7 308.5,466.2 313.5,462.6 317.5,459.8 322.5,456.6 327.5,453.6 332.5,450.5 336.5,448.1 341.5,444.9 346.5,441.6 350.5,438.9 355.5,435.6 360.5,431.9 364.5,429 369.5,425.4 374.5,422.5 379.5,419.8 383.5,417.6 388.5,414.9 393.5,412.2 397.5,410 402.5,407.5 407.5,405 411.5,403 416.5,400.5 421.5,398 425.5,396 430.5,393.7 435.5,391.4 440.5,389.2 444.5,387.4 449.5,385.1 454.5,382.9 458.5,380.9 463.5,378.4 468.5,375.9 472.5,373.9 477.5,371.4 482.5,368.9 487.5,366.2 491.5,363.9 496.5,361.2 501.5,358.4 505.5,356.2 510.5,353.4 515.5,351 519.5,349.1 524.5,346.7 529.5,344.3 534.5,341.9 538.5,340 543.5,337.8 548.5,335.6 552.5,333.8 557.5,331.6 562.5,329.4 566.5,327.7 571.5,326.1 576.5,324.7 580.5,323.6 585.5,322.2 590.5,320.8 595.5,319.4 599.5,318.1 604.5,316.5 609.5,314.9 613.5,313.6 618.5,312 623.5,310.4 627.5,309.2 632.5,307.7 637.5,306.2 642.5,304.7 646.5,303.5 651.5,302 656.5,300.2 660.5,298.6 665.5,296.7 670.5,294.8 674.5,293.3 679.5,291.4 684.5,290.1 688.5,289.2 693.5,288.1 698.5,287 703.5,285.9 707.5,285.1 712.5,284.3 717.5,283.7 721.5,283.2 726.5,282.5 731.5,281.9 735.5,281.4 740.5,281.2 745.5,281.2 750.5,281.2 754.5,281.2 759.5,281.2 764.5,281.2 768.5,281.2 773.5,281.2 778.5,281.1 782.5,281.1 787.5,281.1 792.5,280.8 796.5,280.4 801.5,279.9 806.5,279.4 811.5,278.9 815.5,278.5 820.5,277.9 825.5,277.2 829.5,276.6 834.5,275.8 839.5,275.1 843.5,274.5 848.5,273.8 853.5,273 858.5,272.2 862.5,271.6 867.5,270.9 872.5,270.1 876.5,269.5 881.5,268.8 886.5,268 890.5,267.4 895.5,266.6 900.5,265.9 904.5,265 909.5,263.7 914.5,262.5 919.5,261.2 923.5,260.2 928.5,259 933.5,258.2 937.5,257.6 942.5,256 947.5,254.9 951.5,253.9 956.5,253.1 961.5,252.3 966.5,251.7 970.5,251.1 975.5,250.5 980.5,250 984.5,249.4 989.5,248.7 994.5,248.3 998.5,247.8 1003.5,247.7 1008.5,247.6 1012.5,247.6 1017.5,247.4 1022.5,247.1 1027.5,246.9 1031.5,246.6 1036.5,246.5 1041.5,246.2 1045.5,245.8 1050.5,245.6 1055.5,245.5 1059.5,245.5 1064.5,245.6 1069.5,245.9 1074.5,246.2 1078.5,246.6 1083.5,247 1088.5,247.1 1092.5,247.3 1097.5,247.5 1102.5,247.6 1106.5,247.5 1111.5,247.6 1116.5,247.7 1121.5,247.9 1125.5,248 1130.5,248.4 1135.5,248.5 1139.5,248.8 1144.5,248.9 1149.5,249.1 1153.5,249.7 1158.5,250.1 1163.5,250.6 1167.5,251 1172.5,251.7 1177.5,252.2 1182.5,252.6 1186.5,252.8 1191.5,253.1 1196.5,253.2 1200.5,253.3 1205.5,253.5 1210.5,253.8 1214.5,254.1 1219.5,254.3 1224.5,254.5 1229.5,254.8 1233.5,255 1238.5,255.3 1243.5,255.7 1247.5,255.9 1252.5,256" fill="none" stroke="#FF00FF" stroke-width="2.2" stroke-linejoin="round" shape-rendering="crispEdges"/>
<polyline points="8.5,497.6 12.5,494.8 17.5,491.3 22.5,487.8 26.5,483.2 31.5,477.3 36.5,471.5 40.5,466.8 45.5,461 50.5,455.1 55.5,449.3 59.5,445.1 64.5,440.2 69.5,434.8 73.5,430.1 78.5,424.1 83.5,418.2 87.5,413.7 92.5,408 97.5,402.3 101.5,397.8 106.5,392.2 111.5,387.3 116.5,383 120.5,379.6 125.5,375.3 130.5,368.4 134.5,362.9 139.5,355.9 144.5,349.2 148.5,344.4 153.5,338.5 158.5,332.5 163.5,326.6 167.5,321.5 172.5,315.1 177.5,308.6 181.5,303.5 186.5,297 191.5,292 195.5,288 200.5,283 205.5,278 209.5,274 214.5,269 219.5,263.9 224.5,258.8 228.5,254.8 233.5,249.7 238.5,246 242.5,241.3 247.5,237.4 252.5,233.6 256.5,230.4 261.5,228 266.5,225.6 271.5,222.6 275.5,220.2 280.5,217.2 285.5,214.5 289.5,212.6 294.5,210.5 299.5,207.9 303.5,205.2 308.5,202.3 313.5,199 317.5,195.5 322.5,192.1 327.5,188.8 332.5,185.3 336.5,181.9 341.5,179.2 346.5,176.5 350.5,174.7 355.5,172.7 360.5,171.4 364.5,171.7 369.5,172.1 374.5,172.6 379.5,172.9 383.5,172.6 388.5,173.5 393.5,174.3 397.5,175.2 402.5,176 407.5,177 411.5,178.4 416.5,180 421.5,181.1 425.5,182.6 430.5,182.9 435.5,183 440.5,182.8 444.5,182.3 449.5,182.7 454.5,183.1 458.5,183.4 463.5,183.3 468.5,184.1 472.5,184.6 477.5,184.6 482.5,184.3 487.5,184 491.5,183 496.5,182.1 501.5,181.1 505.5,181.4 510.5,181.8 515.5,181.8 519.5,182.4 524.5,182.5 529.5,182.6 534.5,183.3 538.5,184.7 543.5,186 548.5,186.7 552.5,187.6 557.5,188.7 562.5,190.9 566.5,193 571.5,195.8 576.5,198.9 580.5,202.3 585.5,205.1 590.5,208.1 595.5,209.7 599.5,211 604.5,212.6 609.5,214.1 613.5,215.5 618.5,216.9 623.5,217.6 627.5,218.7 632.5,218 637.5,217.4 642.5,217.2 646.5,217.3 651.5,218.5 656.5,219.2 660.5,219.4 665.5,219.7 670.5,220.7 674.5,221.3 679.5,221.6 684.5,221.6 688.5,222 693.5,222.9 698.5,226 703.5,228.2 707.5,231 712.5,235.6 717.5,240.2 721.5,245.2 726.5,250.2 731.5,255.2 735.5,260.7 740.5,265.7 745.5,272.1 750.5,279.1 754.5,284.6 759.5,291.6 764.5,299 768.5,308.3 773.5,316.7 778.5,324.5 782.5,331.6 787.5,336.9 792.5,342.3 796.5,346.9 801.5,352.2 806.5,356.6 811.5,359.6 815.5,360.7 820.5,361.6 825.5,362.5 829.5,363.8 834.5,364.9 839.5,366.7 843.5,368.1 848.5,369.7 853.5,371.5 858.5,373.6 862.5,375.5 867.5,378.3 872.5,381.2 876.5,383.9 881.5,384.9 886.5,384.3 890.5,384.5 895.5,385.1 900.5,385.9 904.5,384.4 909.5,383.7 914.5,383.5 919.5,382.8 923.5,381.2 928.5,379.4 933.5,375.3 937.5,372.5 942.5,369.2 947.5,364.2 951.5,359.9 956.5,355.2 961.5,351 966.5,346.6 970.5,342 975.5,337 980.5,330.4 984.5,323.8 989.5,317.5 994.5,310.6 998.5,303.2 1003.5,295.6 1008.5,288.4 1012.5,282.5 1017.5,277.3 1022.5,273.9 1027.5,270.2 1031.5,266 1036.5,261.9 1041.5,257.2 1045.5,252.8 1050.5,250.1 1055.5,247.7 1059.5,245.9 1064.5,244.8 1069.5,243.4 1074.5,241 1078.5,239.5 1083.5,237.6 1088.5,235.3 1092.5,232.8 1097.5,229.9 1102.5,227.3 1106.5,224.1 1111.5,221.2 1116.5,219.2 1121.5,217.5 1125.5,216.2 1130.5,215.5 1135.5,214.7 1139.5,215.9 1144.5,216.4 1149.5,217.6 1153.5,220.3 1158.5,222.3 1163.5,224.8 1167.5,227.2 1172.5,229.4 1177.5,230.9 1182.5,232.2 1186.5,232.8 1191.5,233.5 1196.5,234 1200.5,234.6 1205.5,235.2 1210.5,235.8 1214.5,236.1 1219.5,236.7 1224.5,237.5 1229.5,238.1 1233.5,238.7 1238.5,237.5 1243.5,236.6 1247.5,234.6 1252.5,232.6" fill="none" stroke="#0000FF" stroke-width="2.2" stroke-linejoin="round" shape-rendering="crispEdges"/>
<path d="M8,347 L329,68" stroke="#FF0000" stroke-width="1" stroke-dasharray="3,3" fill="none" shape-rendering="crispEdges"/>
<polygon points="333,63 318,70 325,77" fill="#FF0000"/>
<path d="M355,68 L583,353 L683,166 L692,206 L701,253 L710,297 L723,380 L737,447 L748,507 L760,563 L767,597 L772,623 L774,650" stroke="#FF0000" stroke-width="1" stroke-dasharray="3,3" fill="none" shape-rendering="crispEdges"/>
<clipPath id="pc"><rect x="0" y="0" width="1492" height="672"/></clipPath>
<polyline clip-path="url(#pc)" points="369.5,127.4 369.5,136.0 369.5,144.6 369.7,153.1 369.9,161.7 370.2,170.2 370.5,178.7 370.9,187.3 371.4,195.8 372.0,204.3 372.7,212.7 373.4,221.2 374.2,229.6 375.1,238.1 376.1,246.4 377.1,254.8 378.3,263.1 379.4,271.4 380.7,279.7 382.0,287.9 383.5,296.1 384.9,304.3 386.5,312.4 388.1,320.4 389.8,328.4 391.6,336.4 393.5,344.3 395.4,352.2 397.4,360.0 399.4,367.7 401.6,375.4 403.8,383.1 406.0,390.6 408.4,398.1 410.8,405.6 413.2,412.9 415.8,420.2 418.4,427.5 421.0,434.6 423.7,441.7 426.5,448.7 429.4,455.6 432.3,462.5 435.3,469.3 438.3,475.9 441.4,482.5 444.6,489.0 447.8,495.5 451.0,501.8 454.4,508.0 457.8,514.2 461.2,520.2 464.7,526.2 468.2,532.0 471.8,537.8 475.5,543.4 479.2,548.9 482.9,554.4 486.7,559.7 490.6,565.0 494.5,570.1 498.4,575.1 502.4,580.0 506.4,584.8 510.5,589.5 514.6,594.0 518.7,598.5 522.9,602.8 527.1,607.0 531.4,611.1 535.7,615.1 540.0,619.0 544.4,622.7 548.8,626.3 553.3,629.8 557.7,633.2 562.2,636.4 566.7,639.5 571.3,642.5 575.9,645.4 580.5,648.1 585.1,650.7 589.7,653.2 594.4,655.5 599.1,657.7 603.8,659.8 608.6,661.8 613.3,663.6 618.1,665.3 622.8,666.8 627.6,668.2 632.4,669.5 637.2,670.7 642.1,671.7 646.9,672.6 651.7,673.3 656.6,673.9 661.4,674.4 666.3,674.7 671.1,674.9 676.0,675.0 680.9,674.9 685.7,674.7 690.6,674.4 695.4,673.9 700.3,673.3 705.1,672.6 709.9,671.7 714.8,670.7 719.6,669.5 724.4,668.2 729.2,666.8 733.9,665.3 738.7,663.6 743.4,661.8 748.2,659.8 752.9,657.7 757.6,655.5 762.3,653.2 766.9,650.7 771.5,648.1 776.1,645.4 780.7,642.5 785.3,639.5 789.8,636.4 794.3,633.2 798.7,629.8 803.2,626.3 807.6,622.7 812.0,619.0 816.3,615.1 820.6,611.1 824.9,607.0 829.1,602.8 833.3,598.5 837.4,594.0 841.5,589.5 845.6,584.8 849.6,580.0 853.6,575.1 857.5,570.1 861.4,565.0 865.3,559.7 869.1,554.4 872.8,548.9 876.5,543.4 880.2,537.8 883.8,532.0 887.3,526.2 890.8,520.2 894.2,514.2 897.6,508.0 901.0,501.8 904.2,495.5 907.4,489.0 910.6,482.5 913.7,475.9 916.7,469.3 919.7,462.5 922.6,455.6 925.5,448.7 928.3,441.7 931.0,434.6 933.6,427.5 936.2,420.2 938.8,412.9 941.2,405.6 943.6,398.1 946.0,390.6 948.2,383.1 950.4,375.4 952.6,367.7 954.6,360.0 956.6,352.2 958.5,344.3 960.4,336.4 962.2,328.4 963.9,320.4 965.5,312.4 967.1,304.3 968.5,296.1 970.0,287.9 971.3,279.7 972.6,271.4 973.7,263.1 974.9,254.8 975.9,246.4 976.9,238.1 977.8,229.6 978.6,221.2 979.3,212.7 980.0,204.3 980.6,195.8 981.1,187.3 981.5,178.7 981.8,170.2 982.1,161.7 982.3,153.1 982.5,144.6 982.5,136.0 982.5,127.4" stroke="#FF0000" stroke-width="1" stroke-dasharray="3,3" fill="none" shape-rendering="crispEdges"/>
<path d="M980,141 L1200,212 L1245,234 L1262,247" stroke="#FF0000" stroke-width="1" stroke-dasharray="3,3" fill="none" shape-rendering="crispEdges"/>
<path d="M963,227 L1203,330" stroke="#FF0000" stroke-width="1" stroke-dasharray="3,3" fill="none" shape-rendering="crispEdges"/>
<path d="M989,141 L1008,287" stroke="#FF0000" stroke-width="1" stroke-dasharray="3,3" fill="none" shape-rendering="crispEdges"/>
<path d="M990,170 L1063,273 L1116,181 L1162,342" stroke="#FF0000" stroke-width="1" stroke-dasharray="3,3" fill="none" shape-rendering="crispEdges"/>
<path d="M1088,155 L1080,218 L1068,235 L1060,257 L1052,299" stroke="#FF0000" stroke-width="1" stroke-dasharray="3,3" fill="none" shape-rendering="crispEdges"/>
<path d="M1248,236 L1253,232" stroke="#FF0000" stroke-width="1" stroke-dasharray="3,3" fill="none" shape-rendering="crispEdges"/>
<rect x="1022.5" y="182.5" width="352" height="11" stroke="#FF0000" stroke-width="1" stroke-dasharray="3,3" fill="none" shape-rendering="crispEdges"/>
<ellipse cx="1090" cy="199" rx="11" ry="14" stroke="#FF0000" stroke-width="1" stroke-dasharray="3,3" fill="none" shape-rendering="crispEdges"/>
<polygon points="1214,213 1229.5,217.5 1229,222 1223,226.5 1221,225" fill="#FF0000"/>
<rect x="895.5" y="689.5" width="19" height="114" stroke="#FF0000" stroke-width="1" stroke-dasharray="3,3" fill="none" shape-rendering="crispEdges"/>
<path d="M1013,809 L1082,860" stroke="#FF0000" stroke-width="1" stroke-dasharray="3,3" fill="none" shape-rendering="crispEdges"/>
<polygon points="1088,868 1072,862 1080,855" fill="#FF0000"/>
<rect x="624" y="104" width="6" height="6" fill="#FF0000"/><rect x="647" y="119" width="6" height="6" fill="#FF0000"/>
<g font-family="Liberation Sans, sans-serif" font-size="12.13">
<text x="627" y="119" fill="#FF0000">Cup</text>
<text x="984" y="102" fill="#FF0000">Pivot</text>
<text x="1027" y="160" fill="#FF0000">handle?</text>
<text x="873" y="242" fill="#FF0000">gap up</text>
<text x="1248" y="193" fill="#FF0000">Gap Up</text>
<text x="1261" y="246" fill="#FF0000">BUy</text>
<text x="1008" y="702" fill="#FF0000">Vol Thap</text>
</g>
<g shape-rendering="crispEdges"><rect x="8" y="854" width="2" height="38" fill="#008000"/><rect x="12" y="855" width="2" height="37" fill="#008000"/><rect x="17" y="831" width="2" height="61" fill="#008000"/><rect x="22" y="841" width="2" height="51" fill="#008000"/><rect x="26" y="839" width="2" height="53" fill="#008000"/><rect x="31" y="826" width="2" height="66" fill="#008000"/><rect x="36" y="827" width="2" height="65" fill="#008000"/><rect x="40" y="827" width="2" height="65" fill="#008000"/><rect x="45" y="759" width="2" height="133" fill="#FF0000"/><rect x="50" y="808" width="2" height="84" fill="#008000"/><rect x="55" y="825" width="2" height="67" fill="#008000"/><rect x="59" y="839" width="2" height="53" fill="#FF0000"/><rect x="64" y="836" width="2" height="56" fill="#FF0000"/><rect x="69" y="837" width="2" height="55" fill="#008000"/><rect x="73" y="840" width="2" height="52" fill="#008000"/><rect x="78" y="846" width="2" height="46" fill="#FF0000"/><rect x="83" y="847" width="2" height="45" fill="#FF0000"/><rect x="87" y="864" width="2" height="28" fill="#008000"/><rect x="92" y="871" width="2" height="21" fill="#008000"/><rect x="97" y="852" width="2" height="40" fill="#008000"/><rect x="101" y="843" width="2" height="49" fill="#FF0000"/><rect x="106" y="856" width="2" height="36" fill="#FF0000"/><rect x="111" y="859" width="2" height="33" fill="#FF0000"/><rect x="116" y="818" width="2" height="74" fill="#008000"/><rect x="120" y="841" width="2" height="51" fill="#FF0000"/><rect x="125" y="857" width="2" height="35" fill="#008000"/><rect x="130" y="780" width="2" height="112" fill="#008000"/><rect x="134" y="830" width="2" height="62" fill="#008000"/><rect x="139" y="853" width="2" height="39" fill="#008000"/><rect x="144" y="857" width="2" height="35" fill="#008000"/><rect x="148" y="816" width="2" height="76" fill="#FF0000"/><rect x="153" y="850" width="2" height="42" fill="#008000"/><rect x="158" y="851" width="2" height="41" fill="#008000"/><rect x="163" y="824" width="2" height="68" fill="#FF0000"/><rect x="167" y="817" width="2" height="75" fill="#FF0000"/><rect x="172" y="850" width="2" height="42" fill="#008000"/><rect x="177" y="863" width="2" height="29" fill="#FF0000"/><rect x="181" y="818" width="2" height="74" fill="#008000"/><rect x="186" y="827" width="2" height="65" fill="#FF0000"/><rect x="191" y="844" width="2" height="48" fill="#008000"/><rect x="195" y="820" width="2" height="72" fill="#FF0000"/><rect x="200" y="810" width="2" height="82" fill="#008000"/><rect x="205" y="855" width="2" height="37" fill="#FF0000"/><rect x="209" y="822" width="2" height="70" fill="#FF0000"/><rect x="214" y="853" width="2" height="39" fill="#008000"/><rect x="219" y="865" width="2" height="27" fill="#008000"/><rect x="224" y="868" width="2" height="24" fill="#FF0000"/><rect x="228" y="869" width="2" height="23" fill="#FF0000"/><rect x="233" y="826" width="2" height="66" fill="#008000"/><rect x="238" y="873" width="2" height="19" fill="#FF0000"/><rect x="242" y="868" width="2" height="24" fill="#FF0000"/><rect x="247" y="844" width="2" height="48" fill="#FF0000"/><rect x="252" y="850" width="2" height="42" fill="#008000"/><rect x="256" y="855" width="2" height="37" fill="#FF0000"/><rect x="261" y="847" width="2" height="45" fill="#FF0000"/><rect x="266" y="870" width="2" height="22" fill="#008000"/><rect x="271" y="826" width="2" height="66" fill="#008000"/><rect x="275" y="852" width="2" height="40" fill="#FF0000"/><rect x="280" y="848" width="2" height="44" fill="#008000"/><rect x="285" y="864" width="2" height="28" fill="#FF0000"/><rect x="289" y="860" width="2" height="32" fill="#FF0000"/><rect x="294" y="855" width="2" height="37" fill="#FF0000"/><rect x="299" y="841" width="2" height="51" fill="#008000"/><rect x="303" y="721" width="2" height="171" fill="#008000"/><rect x="308" y="856" width="2" height="36" fill="#FF0000"/><rect x="313" y="846" width="2" height="46" fill="#FF0000"/><rect x="317" y="850" width="2" height="42" fill="#FF0000"/><rect x="322" y="856" width="2" height="36" fill="#FF0000"/><rect x="327" y="828" width="2" height="64" fill="#008000"/><rect x="332" y="808" width="2" height="84" fill="#008000"/><rect x="336" y="853" width="2" height="39" fill="#FF0000"/><rect x="341" y="751" width="2" height="141" fill="#FF0000"/><rect x="346" y="817" width="2" height="75" fill="#008000"/><rect x="350" y="810" width="2" height="82" fill="#FF0000"/><rect x="355" y="861" width="2" height="31" fill="#008000"/><rect x="360" y="825" width="2" height="67" fill="#FF0000"/><rect x="364" y="795" width="2" height="97" fill="#FF0000"/><rect x="369" y="844" width="2" height="48" fill="#FF0000"/><rect x="374" y="860" width="2" height="32" fill="#008000"/><rect x="379" y="864" width="2" height="28" fill="#008000"/><rect x="383" y="868" width="2" height="24" fill="#FF0000"/><rect x="388" y="852" width="2" height="40" fill="#FF0000"/><rect x="393" y="870" width="2" height="22" fill="#008000"/><rect x="397" y="833" width="2" height="59" fill="#FF0000"/><rect x="402" y="844" width="2" height="48" fill="#008000"/><rect x="407" y="865" width="2" height="27" fill="#008000"/><rect x="411" y="858" width="2" height="34" fill="#FF0000"/><rect x="416" y="876" width="2" height="16" fill="#FF0000"/><rect x="421" y="872" width="2" height="20" fill="#008000"/><rect x="425" y="869" width="2" height="23" fill="#008000"/><rect x="430" y="866" width="2" height="26" fill="#008000"/><rect x="435" y="864" width="2" height="28" fill="#008000"/><rect x="440" y="843" width="2" height="49" fill="#FF0000"/><rect x="444" y="864" width="2" height="28" fill="#FF0000"/><rect x="449" y="827" width="2" height="65" fill="#FF0000"/><rect x="454" y="862" width="2" height="30" fill="#008000"/><rect x="458" y="868" width="2" height="24" fill="#008000"/><rect x="463" y="869" width="2" height="23" fill="#008000"/><rect x="468" y="870" width="2" height="22" fill="#FF0000"/><rect x="472" y="872" width="2" height="20" fill="#FF0000"/><rect x="477" y="845" width="2" height="47" fill="#008000"/><rect x="482" y="859" width="2" height="33" fill="#FF0000"/><rect x="487" y="863" width="2" height="29" fill="#008000"/><rect x="491" y="807" width="2" height="85" fill="#008000"/><rect x="496" y="872" width="2" height="20" fill="#FF0000"/><rect x="501" y="866" width="2" height="26" fill="#008000"/><rect x="505" y="832" width="2" height="60" fill="#FF0000"/><rect x="510" y="860" width="2" height="32" fill="#FF0000"/><rect x="515" y="868" width="2" height="24" fill="#008000"/><rect x="519" y="839" width="2" height="53" fill="#FF0000"/><rect x="524" y="864" width="2" height="28" fill="#008000"/><rect x="529" y="862" width="2" height="30" fill="#FF0000"/><rect x="534" y="869" width="2" height="23" fill="#FF0000"/><rect x="538" y="871" width="2" height="21" fill="#FF0000"/><rect x="543" y="864" width="2" height="28" fill="#FF0000"/><rect x="548" y="835" width="2" height="57" fill="#008000"/><rect x="552" y="851" width="2" height="41" fill="#FF0000"/><rect x="557" y="856" width="2" height="36" fill="#FF0000"/><rect x="562" y="764" width="2" height="128" fill="#FF0000"/><rect x="566" y="799" width="2" height="93" fill="#008000"/><rect x="571" y="814" width="2" height="78" fill="#FF0000"/><rect x="576" y="771" width="2" height="121" fill="#FF0000"/><rect x="580" y="786" width="2" height="106" fill="#008000"/><rect x="585" y="844" width="2" height="48" fill="#FF0000"/><rect x="590" y="844" width="2" height="48" fill="#FF0000"/><rect x="595" y="842" width="2" height="50" fill="#008000"/><rect x="599" y="856" width="2" height="36" fill="#008000"/><rect x="604" y="870" width="2" height="22" fill="#008000"/><rect x="609" y="860" width="2" height="32" fill="#008000"/><rect x="613" y="860" width="2" height="32" fill="#008000"/><rect x="618" y="862" width="2" height="30" fill="#008000"/><rect x="623" y="866" width="2" height="26" fill="#008000"/><rect x="627" y="871" width="2" height="21" fill="#FF0000"/><rect x="632" y="840" width="2" height="52" fill="#008000"/><rect x="637" y="872" width="2" height="20" fill="#FF0000"/><rect x="642" y="869" width="2" height="23" fill="#FF0000"/><rect x="646" y="849" width="2" height="43" fill="#FF0000"/><rect x="651" y="826" width="2" height="66" fill="#FF0000"/><rect x="656" y="851" width="2" height="41" fill="#008000"/><rect x="660" y="797" width="2" height="95" fill="#008000"/><rect x="665" y="806" width="2" height="86" fill="#008000"/><rect x="670" y="829" width="2" height="63" fill="#008000"/><rect x="674" y="840" width="2" height="52" fill="#008000"/><rect x="679" y="857" width="2" height="35" fill="#FF0000"/><rect x="684" y="843" width="2" height="49" fill="#FF0000"/><rect x="688" y="854" width="2" height="38" fill="#FF0000"/><rect x="693" y="854" width="2" height="38" fill="#FF0000"/><rect x="698" y="753" width="2" height="139" fill="#FF0000"/><rect x="703" y="832" width="2" height="60" fill="#008000"/><rect x="707" y="811" width="2" height="81" fill="#FF0000"/><rect x="712" y="775" width="2" height="117" fill="#FF0000"/><rect x="717" y="806" width="2" height="86" fill="#008000"/><rect x="721" y="836" width="2" height="56" fill="#FF0000"/><rect x="726" y="819" width="2" height="73" fill="#008000"/><rect x="731" y="844" width="2" height="48" fill="#FF0000"/><rect x="735" y="854" width="2" height="38" fill="#008000"/><rect x="740" y="854" width="2" height="38" fill="#FF0000"/><rect x="745" y="809" width="2" height="83" fill="#FF0000"/><rect x="750" y="828" width="2" height="64" fill="#FF0000"/><rect x="754" y="829" width="2" height="63" fill="#FF0000"/><rect x="759" y="823" width="2" height="69" fill="#FF0000"/><rect x="764" y="815" width="2" height="77" fill="#FF0000"/><rect x="768" y="829" width="2" height="63" fill="#FF0000"/><rect x="773" y="843" width="2" height="49" fill="#FF0000"/><rect x="778" y="849" width="2" height="43" fill="#008000"/><rect x="782" y="831" width="2" height="61" fill="#008000"/><rect x="787" y="812" width="2" height="80" fill="#008000"/><rect x="792" y="820" width="2" height="72" fill="#FF0000"/><rect x="796" y="846" width="2" height="46" fill="#008000"/><rect x="801" y="829" width="2" height="63" fill="#FF0000"/><rect x="806" y="837" width="2" height="55" fill="#FF0000"/><rect x="811" y="855" width="2" height="37" fill="#008000"/><rect x="815" y="772" width="2" height="120" fill="#008000"/><rect x="820" y="827" width="2" height="65" fill="#FF0000"/><rect x="825" y="848" width="2" height="44" fill="#008000"/><rect x="829" y="815" width="2" height="77" fill="#FF0000"/><rect x="834" y="826" width="2" height="66" fill="#FF0000"/><rect x="839" y="782" width="2" height="110" fill="#FF0000"/><rect x="843" y="820" width="2" height="72" fill="#008000"/><rect x="848" y="852" width="2" height="40" fill="#FF0000"/><rect x="853" y="851" width="2" height="41" fill="#008000"/><rect x="858" y="850" width="2" height="42" fill="#FF0000"/><rect x="862" y="864" width="2" height="28" fill="#FF0000"/><rect x="867" y="852" width="2" height="40" fill="#FF0000"/><rect x="872" y="866" width="2" height="26" fill="#008000"/><rect x="876" y="872" width="2" height="20" fill="#008000"/><rect x="881" y="790" width="2" height="102" fill="#008000"/><rect x="886" y="832" width="2" height="60" fill="#008000"/><rect x="890" y="787" width="2" height="105" fill="#008000"/><rect x="895" y="830" width="2" height="62" fill="#FF0000"/><rect x="900" y="809" width="2" height="83" fill="#008000"/><rect x="904" y="690" width="2" height="202" fill="#008000"/><rect x="909" y="816" width="2" height="76" fill="#FF0000"/><rect x="914" y="821" width="2" height="71" fill="#FF0000"/><rect x="919" y="833" width="2" height="59" fill="#008000"/><rect x="923" y="807" width="2" height="85" fill="#008000"/><rect x="928" y="856" width="2" height="36" fill="#FF0000"/><rect x="933" y="833" width="2" height="59" fill="#008000"/><rect x="937" y="841" width="2" height="51" fill="#FF0000"/><rect x="942" y="832" width="2" height="60" fill="#FF0000"/><rect x="947" y="845" width="2" height="47" fill="#008000"/><rect x="951" y="830" width="2" height="62" fill="#FF0000"/><rect x="956" y="857" width="2" height="35" fill="#FF0000"/><rect x="961" y="853" width="2" height="39" fill="#FF0000"/><rect x="966" y="854" width="2" height="38" fill="#008000"/><rect x="970" y="849" width="2" height="43" fill="#FF0000"/><rect x="975" y="836" width="2" height="56" fill="#008000"/><rect x="980" y="855" width="2" height="37" fill="#FF0000"/><rect x="984" y="856" width="2" height="36" fill="#008000"/><rect x="989" y="771" width="2" height="121" fill="#008000"/><rect x="994" y="848" width="2" height="44" fill="#FF0000"/><rect x="998" y="854" width="2" height="38" fill="#FF0000"/><rect x="1003" y="766" width="2" height="126" fill="#FF0000"/><rect x="1008" y="799" width="2" height="93" fill="#008000"/><rect x="1012" y="857" width="2" height="35" fill="#FF0000"/><rect x="1017" y="860" width="2" height="32" fill="#FF0000"/><rect x="1022" y="869" width="2" height="23" fill="#FF0000"/><rect x="1027" y="868" width="2" height="24" fill="#008000"/><rect x="1031" y="870" width="2" height="22" fill="#008000"/><rect x="1036" y="869" width="2" height="23" fill="#FF0000"/><rect x="1041" y="842" width="2" height="50" fill="#008000"/><rect x="1045" y="874" width="2" height="18" fill="#FF0000"/><rect x="1050" y="871" width="2" height="21" fill="#008000"/><rect x="1055" y="874" width="2" height="18" fill="#008000"/><rect x="1059" y="854" width="2" height="38" fill="#FF0000"/><rect x="1064" y="845" width="2" height="47" fill="#FF0000"/><rect x="1069" y="867" width="2" height="25" fill="#008000"/><rect x="1074" y="876" width="2" height="16" fill="#FF0000"/><rect x="1078" y="877" width="2" height="15" fill="#FF0000"/><rect x="1083" y="860" width="2" height="32" fill="#008000"/><rect x="1088" y="811" width="2" height="81" fill="#008000"/><rect x="1092" y="849" width="2" height="43" fill="#008000"/><rect x="1097" y="824" width="2" height="68" fill="#008000"/><rect x="1102" y="858" width="2" height="34" fill="#FF0000"/><rect x="1106" y="814" width="2" height="78" fill="#008000"/><rect x="1111" y="847" width="2" height="45" fill="#008000"/><rect x="1116" y="848" width="2" height="44" fill="#FF0000"/><rect x="1121" y="861" width="2" height="31" fill="#008000"/><rect x="1125" y="854" width="2" height="38" fill="#FF0000"/><rect x="1130" y="832" width="2" height="60" fill="#FF0000"/><rect x="1135" y="865" width="2" height="27" fill="#008000"/><rect x="1139" y="868" width="2" height="24" fill="#FF0000"/><rect x="1144" y="865" width="2" height="27" fill="#008000"/><rect x="1149" y="799" width="2" height="93" fill="#FF0000"/><rect x="1153" y="796" width="2" height="96" fill="#FF0000"/><rect x="1158" y="835" width="2" height="57" fill="#008000"/><rect x="1163" y="846" width="2" height="46" fill="#008000"/><rect x="1167" y="874" width="2" height="18" fill="#008000"/><rect x="1172" y="860" width="2" height="32" fill="#008000"/><rect x="1177" y="851" width="2" height="41" fill="#008000"/><rect x="1182" y="861" width="2" height="31" fill="#008000"/><rect x="1186" y="853" width="2" height="39" fill="#008000"/><rect x="1191" y="858" width="2" height="34" fill="#FF0000"/><rect x="1196" y="854" width="2" height="38" fill="#008000"/><rect x="1200" y="858" width="2" height="34" fill="#FF0000"/><rect x="1205" y="857" width="2" height="35" fill="#FF0000"/><rect x="1210" y="856" width="2" height="36" fill="#008000"/><rect x="1214" y="842" width="2" height="50" fill="#008000"/><rect x="1219" y="844" width="2" height="48" fill="#FF0000"/><rect x="1224" y="861" width="2" height="31" fill="#008000"/><rect x="1229" y="874" width="2" height="18" fill="#FF0000"/><rect x="1233" y="866" width="2" height="26" fill="#FF0000"/><rect x="1238" y="838" width="2" height="54" fill="#008000"/><rect x="1243" y="855" width="2" height="37" fill="#008000"/><rect x="1247" y="788" width="2" height="104" fill="#008000"/><rect x="1252" y="889" width="2" height="3" fill="#008000"/></g>
<polyline points="8.5,854.5 22.4,852.7 39.6,850 49.9,847.6 60.2,846 74,844 84.3,843 91.2,844 98.1,843 106.7,844 120,845.7 126.2,844.6 130.3,843 144.7,843 148.8,842.6 161.1,841.5 167.3,840.5 179.6,840 185.8,840.5 194,839 200.2,838.5 208.4,837.4 216.6,838.5 235.1,839 250,839.5 256.4,839.5 264.5,840 272.7,841 283,841.5 289.1,843.6 297.3,845 305.5,845 311.7,843 330.2,843 338.4,840.5 346.7,840.5 352.8,838.5 363.1,839 369.5,838.5 380,839.5 382.6,840.5 394.9,840.5 397,841.5 413.4,841.5 417.5,843 425.8,844 432,845.7 462.8,845.7 466.9,847.3 475,846.7 479.2,845.7 483.3,847.3 490,846.5 494.9,845.7 506.7,845.7 508.8,847.3 523.2,847.3 538.6,850.4 560.2,850.4 562.2,849.4 570.4,848 597.1,848 600.1,850.4 632.9,850.4 636,851.4 647.3,851.4 653.4,849.8 661.7,848 667.8,846 692.5,846 696.6,843.6 704.8,842.6 711,840.5 717.2,839 736,838.5 744.7,837.4 761.1,836.4 763.2,834.8 771.4,833.3 781.7,833.3 785.8,832.3 790.9,831.3 798.1,834 806.3,834.4 811.5,836.4 814.6,834.8 831,835 839.2,833.3 843.3,831.3 878.2,831.3 881.8,830 886.6,830 891.4,827.7 895,829.3 902.1,827 911.7,825.8 921.2,824.6 928.4,824 933.2,826.2 942.7,826.4 947.5,828 953.5,829.3 962,829.2 976.4,829.2 980.6,831 984.7,831.3 988.8,828.8 992.9,830.2 998,831.3 1003.2,828.8 1017.6,829.2 1021.7,830.2 1029.9,832.3 1034,833.3 1044.3,833.3 1050.4,835.8 1060.7,836.4 1068.9,838.5 1077.2,840.5 1083.3,841 1088.8,840.5 1094.4,839.5 1096.4,839 1102.6,839 1106.7,837.8 1112.9,838.3 1121.1,839 1125.2,840.5 1133.4,841.5 1139.6,845.7 1168.4,846 1172.5,847.3 1178.7,848 1190,848.5 1208,848.5 1209.4,849.4 1212.2,848 1220.6,848.8 1223.3,850.3 1227.5,851.3 1235.8,851.3 1237.2,852.6 1240,853.3 1244.2,853.3 1247,852 1251,853.3" fill="none" stroke="#000000" stroke-width="1" stroke-linejoin="round" shape-rendering="crispEdges"/>
<g shape-rendering="crispEdges"><rect x="3" y="656" width="1490" height="1" fill="#000"/><rect x="3" y="673" width="1551" height="1" fill="#000"/><rect x="1492" y="4" width="1" height="894" fill="#000"/><rect x="1493" y="650" width="4" height="1" fill="#000"/><rect x="1493" y="610" width="4" height="1" fill="#000"/><rect x="1493" y="572" width="4" height="1" fill="#000"/><rect x="1493" y="534" width="4" height="1" fill="#000"/><rect x="1493" y="498" width="4" height="1" fill="#000"/><rect x="1493" y="462" width="4" height="1" fill="#000"/><rect x="1493" y="428" width="4" height="1" fill="#000"/><rect x="1493" y="394" width="4" height="1" fill="#000"/><rect x="1493" y="361" width="4" height="1" fill="#000"/><rect x="1493" y="329" width="4" height="1" fill="#000"/><rect x="1493" y="298" width="4" height="1" fill="#000"/><rect x="1493" y="267" width="4" height="1" fill="#000"/><rect x="1493" y="237" width="4" height="1" fill="#000"/><rect x="1493" y="207" width="4" height="1" fill="#000"/><rect x="1493" y="179" width="4" height="1" fill="#000"/><rect x="1493" y="151" width="4" height="1" fill="#000"/><rect x="1493" y="123" width="4" height="1" fill="#000"/><rect x="1493" y="96" width="4" height="1" fill="#000"/><rect x="1493" y="69" width="4" height="1" fill="#000"/><rect x="1493" y="43" width="4" height="1" fill="#000"/><rect x="1493" y="18" width="4" height="1" fill="#000"/><rect x="1493" y="862" width="4" height="1" fill="#000"/><rect x="1493" y="833" width="4" height="1" fill="#000"/><rect x="1493" y="803" width="4" height="1" fill="#000"/><rect x="1493" y="774" width="4" height="1" fill="#000"/><rect x="1493" y="745" width="4" height="1" fill="#000"/><rect x="1493" y="715" width="4" height="1" fill="#000"/><rect x="1493" y="686" width="4" height="1" fill="#000"/><rect x="97" y="657" width="1" height="5" fill="#000"/><rect x="191" y="657" width="1" height="5" fill="#000"/><rect x="299" y="657" width="1" height="5" fill="#000"/><rect x="397" y="657" width="1" height="5" fill="#000"/><rect x="501" y="657" width="1" height="5" fill="#000"/><rect x="580" y="657" width="1" height="5" fill="#000"/><rect x="674" y="657" width="1" height="5" fill="#000"/><rect x="778" y="657" width="1" height="5" fill="#000"/><rect x="872" y="657" width="1" height="5" fill="#000"/><rect x="966" y="657" width="1" height="5" fill="#000"/><rect x="1069" y="657" width="1" height="5" fill="#000"/><rect x="1177" y="657" width="1" height="5" fill="#000"/></g>
<g font-family="Liberation Sans, sans-serif" font-size="12.13" fill="#000">
<text x="100.5" y="668">Sep</text>
<text x="194.5" y="668">Oct</text>
<text x="302.5" y="668">Nov</text>
<text x="400.5" y="668">Dec</text>
<text x="504.5" y="668" font-weight="bold">2020</text>
<text x="583.5" y="668">Feb</text>
<text x="677.5" y="668">Mar</text>
<text x="781.5" y="668">Apr</text>
<text x="875.5" y="668">May</text>
<text x="969.5" y="668">Jun</text>
<text x="1072.5" y="668">Jul</text>
<text x="1180.5" y="668">Aug</text>
<text x="1549" y="654.5" text-anchor="end">34</text>
<text x="1549" y="614.9" text-anchor="end">35</text>
<text x="1549" y="576.4" text-anchor="end">36</text>
<text x="1549" y="538.9" text-anchor="end">37</text>
<text x="1549" y="502.5" text-anchor="end">38</text>
<text x="1549" y="467" text-anchor="end">39</text>
<text x="1549" y="432.4" text-anchor="end">40</text>
<text x="1549" y="398.6" text-anchor="end">41</text>
<text x="1549" y="365.7" text-anchor="end">42</text>
<text x="1549" y="333.5" text-anchor="end">43</text>
<text x="1549" y="302.1" text-anchor="end">44</text>
<text x="1549" y="271.4" text-anchor="end">45</text>
<text x="1549" y="241.4" text-anchor="end">46</text>
<text x="1549" y="212" text-anchor="end">47</text>
<text x="1549" y="183.2" text-anchor="end">48</text>
<text x="1549" y="155" text-anchor="end">49</text>
<text x="1549" y="127.4" text-anchor="end">50</text>
<text x="1549" y="100.3" text-anchor="end">51</text>
<text x="1549" y="73.8" text-anchor="end">52</text>
<text x="1549" y="47.7" text-anchor="end">53</text>
<text x="1549" y="22.2" text-anchor="end">54</text>
<text x="1549" y="866.6" text-anchor="end">1M</text>
<text x="1549" y="837.3" text-anchor="end">2M</text>
<text x="1549" y="808" text-anchor="end">3M</text>
<text x="1549" y="778.6" text-anchor="end">4M</text>
<text x="1549" y="749.2" text-anchor="end">5M</text>
<text x="1549" y="719.9" text-anchor="end">6M</text>
<text x="1549" y="690.5" text-anchor="end">7M</text>
</g>
<polygon points="1493,154 1500,147 1532,147 1532,162 1500,162" fill="#000"/>
<text x="1516" y="159" font-family="Liberation Sans, sans-serif" font-size="12.13" fill="#FFF" text-anchor="middle">48.9</text>
<rect x="1500" y="223" width="54" height="15" fill="#FF0000"/>
<rect x="1500" y="238" width="54" height="15" fill="#0000FF"/>
<rect x="1500" y="253" width="54" height="15" fill="#FF00FF"/>
<text x="1504" y="235" font-family="Liberation Sans, sans-serif" font-size="12.13" fill="#000">46.2422</text>
<text x="1504" y="250" font-family="Liberation Sans, sans-serif" font-size="12.13" fill="#FFF">46.1441</text>
<text x="1504" y="265" font-family="Liberation Sans, sans-serif" font-size="12.13" fill="#000">45.3645</text>
<rect x="1500" y="847" width="54" height="14" fill="#000"/>
<text x="1502" y="858" font-family="Liberation Sans, sans-serif" font-size="12.13" fill="#FFF">1,345,888</text>
<polygon points="1493,889 1500,882 1554,882 1554,896 1500,896" fill="#008000"/>
<text x="1506" y="893" font-family="Liberation Sans, sans-serif" font-size="12.13" fill="#FFF">108,520</text>
<text x="7" y="16" font-family="Liberation Sans, sans-serif" font-size="12.13" fill="#000">FPT - Daily 8/24/2020 00:00:00 Open 47.95, Hi 48.6, Lo 47.85, Close 48.45 (2.2%) <tspan fill="#0000FF">MA(Close,50)</tspan> = 46.08, <tspan fill="#FF00FF">MA1(Close,200)</tspan> = 45.37, <tspan fill="#FF0000">MA2(Close,20)</tspan> = 46.03</text>
<text x="7" y="687" font-family="Liberation Sans, sans-serif" font-size="12.13" fill="#000">FPT - <tspan fill="#008000">Volume</tspan> = 3,540,210.00, MA(Volume,50) = 1,365,732.38</text>
<g shape-rendering="crispEdges">
<rect x="0" y="0" width="1559" height="2" fill="#2B3A5C"/>
<rect x="521" y="0" width="103" height="2" fill="#F8E0A0"/>
<rect x="2" y="2" width="1552" height="1" fill="#FBE6A8"/>
<rect x="1553" y="2" width="1" height="896" fill="#FBE6A8"/>
<rect x="0" y="0" width="2" height="900" fill="#2B3A5C"/>
<rect x="1554" y="0" width="5" height="900" fill="#2B3A5C"/>
<rect x="3" y="898" width="64" height="1" fill="#A0A0A0"/><rect x="3" y="899" width="64" height="1" fill="#F4F4F4"/>
<rect x="18" y="898" width="1" height="2" fill="#A0A0A0"/>
<rect x="34" y="898" width="1" height="2" fill="#A0A0A0"/>
<rect x="50" y="898" width="1" height="2" fill="#A0A0A0"/>
<rect x="133" y="898" width="372" height="1" fill="#A0A0A0"/><rect x="133" y="899" width="372" height="1" fill="#F4F4F4"/>
<rect x="178" y="898" width="1" height="2" fill="#A0A0A0"/>
<rect x="231" y="898" width="1" height="2" fill="#A0A0A0"/>
<rect x="284" y="898" width="1" height="2" fill="#A0A0A0"/>
<rect x="337" y="898" width="1" height="2" fill="#A0A0A0"/>
<rect x="390" y="898" width="1" height="2" fill="#A0A0A0"/>
<rect x="442" y="898" width="1" height="2" fill="#A0A0A0"/>
<rect x="505" y="898" width="50" height="1" fill="#A0A0A0"/><rect x="505" y="899" width="50" height="1" fill="#F4F4F4"/>
<rect x="522" y="898" width="1" height="2" fill="#A0A0A0"/>
<rect x="540" y="898" width="1" height="2" fill="#A0A0A0"/>
<rect x="1448" y="898" width="87" height="1" fill="#A0A0A0"/><rect x="1448" y="899" width="87" height="1" fill="#F4F4F4"/>
</g>
</svg></body></html>
